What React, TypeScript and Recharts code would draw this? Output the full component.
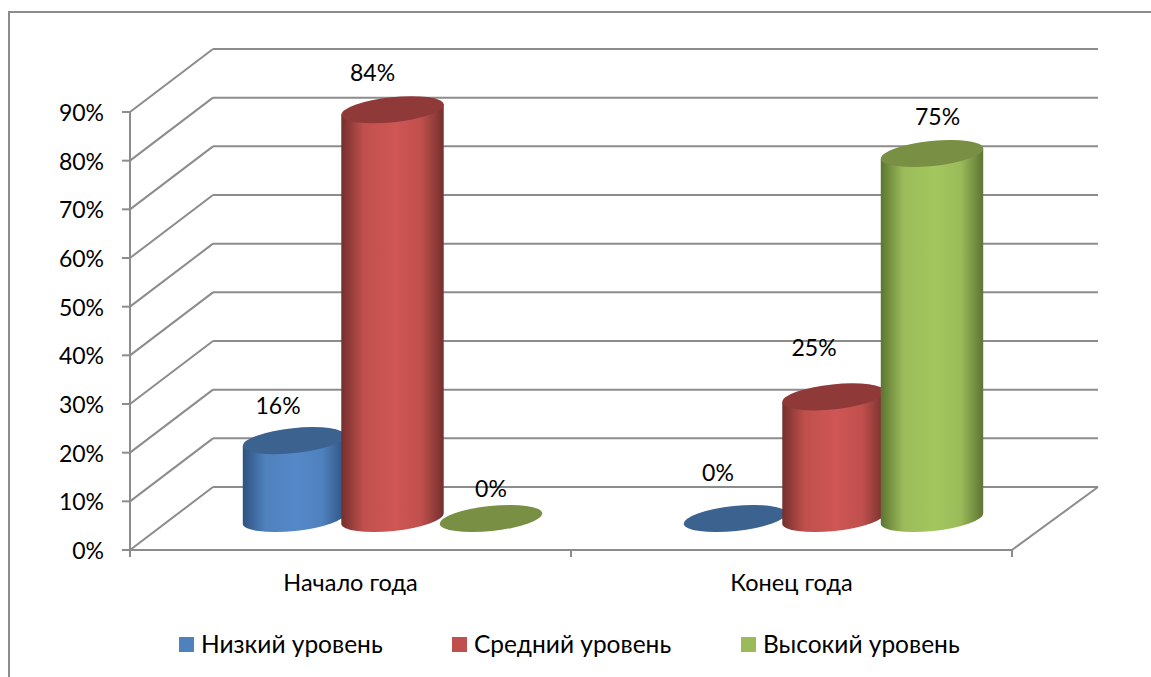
// App.tsx
import React from "react";
import { BarChart, Bar, XAxis, YAxis, CartesianGrid, Legend, LabelList } from "recharts";

const periods = ["Начало года", "Конец года"];
const lowLevel = [16, 0];
const midLevel = [84, 25];
const highLevel = [0, 75];
const yTicks = [0, 10, 20, 30, 40, 50, 60, 70, 80, 90];

const chartData = periods.map((period, i) => ({
  period,
  low: lowLevel[i],
  mid: midLevel[i],
  high: highLevel[i],
}));

const FONT = "Lato, 'Open Sans', sans-serif";
const LINE = "#8c8c8c";

// depth of the fake 3D floor, bars stand in the middle of it
const DEPTH_X = 83;
const DEPTH_Y = 63;
const BAR_DX = 41.5;
const BAR_DY = 31.5;
const TILT = 6;
const RY = 12.5;

const seriesStyle = [
  { key: "low", name: "Низкий уровень", swatch: "#4f81bd", top: "#3c628f", edge: "#2f5280", mid: "#5588c8" },
  { key: "mid", name: "Средний уровень", swatch: "#c0504d", top: "#8f3a39", edge: "#742f2d", mid: "#cf5654" },
  { key: "high", name: "Высокий уровень", swatch: "#9bbb59", top: "#799044", edge: "#5c7533", mid: "#a3c75e" },
];

// data labels were dragged by hand in the original, so each one has its own nudge
const labelNudges: Record<string, [number, number][]> = {
  low: [[-16, -35], [-17, -45.5]],
  mid: [[-20, -37], [-19.5, -49]],
  high: [[0, -30], [5.5, -37]],
};

// Back wall line plus the slanted bit going to the front axis
const WallLine = (props: any) => {
  const { x1, x2, y1 } = props;
  const isFloor = Math.abs(y1 - 550) < 1;
  return (
    <g key={props.key ?? y1}>
      <line x1={x1} y1={y1} x2={x1 + DEPTH_X} y2={y1 - DEPTH_Y} stroke={LINE} strokeWidth={2} />
      <line x1={x1 + DEPTH_X} y1={y1 - DEPTH_Y} x2={x2 + 86} y2={y1 - DEPTH_Y} stroke={LINE} strokeWidth={2} />
      {isFloor && (
        <line x1={x2} y1={y1} x2={x2 + 86} y2={y1 - DEPTH_Y} stroke={LINE} strokeWidth={2} />
      )}
    </g>
  );
};

const CategoryTick = (props: any) => {
  const { x, y, payload, index } = props;
  const half = payload.offset ?? 220.5;
  return (
    <g>
      {index === 0 && <line x1={x - half} y1={y - 8} x2={x - half} y2={y - 1} stroke={LINE} strokeWidth={2} />}
      <line x1={x + half} y1={y - 8} x2={x + half} y2={y - 1} stroke={LINE} strokeWidth={2} />
      <text x={x} y={y + 33} textAnchor="middle" fontFamily={FONT} fontSize={23.5} fill="#000">
        {payload.value}
      </text>
    </g>
  );
};

const makeCylinder = (style: (typeof seriesStyle)[number]) => (props: any) => {
  const { x, y, width, height } = props;
  const cx = x + width / 2 + BAR_DX;
  const top = y - BAR_DY;
  const bottom = y + height - BAR_DY;
  const rx = width / 2;
  const ex = rx * Math.cos((TILT * Math.PI) / 180);
  const ey = rx * Math.sin((TILT * Math.PI) / 180);
  const body = `M${cx - ex},${top + ey} L${cx - ex},${bottom + ey} A${rx},${RY} ${-TILT} 0 0 ${cx + ex},${bottom - ey} L${cx + ex},${top - ey} Z`;
  return (
    <g>
      {height > 0 && <path d={body} fill={`url(#cyl-${style.key})`} />}
      <ellipse cx={cx} cy={top} rx={rx} ry={RY} fill={style.top} transform={`rotate(${-TILT} ${cx} ${top})`} />
    </g>
  );
};

const makeLabel = (seriesKey: string) => (props: any) => {
  const { x, y, width, value, index } = props;
  const [dx, dy] = labelNudges[seriesKey][index];
  return (
    <text
      x={x + width / 2 + BAR_DX + dx}
      y={y - BAR_DY + dy + 8}
      textAnchor="middle"
      fontFamily={FONT}
      fontSize={23}
      fill="#000"
    >
      {value}%
    </text>
  );
};

const LegendRow = () => (
  <div style={{ position: "relative", height: 30, fontFamily: FONT, fontSize: 24.5, color: "#000" }}>
    {seriesStyle.map((s, i) => (
      <div key={s.key} style={{ position: "absolute", left: [179, 452, 741][i], top: 0, whiteSpace: "nowrap" }}>
        <span
          style={{ position: "absolute", left: 0, top: 8, width: 15, height: 15, background: s.swatch }}
        />
        <span style={{ position: "absolute", left: 22, top: 0, lineHeight: "30px" }}>{s.name}</span>
      </div>
    ))}
  </div>
);

export default function App() {
  return (
    <div style={{ position: "absolute", left: 0, top: 0, width: 1151, height: 677, background: "#fff", overflow: "hidden" }}>
      {/* chart frame, cut by the page edge on the right and bottom */}
      <div
        style={{
          position: "absolute",
          left: 8,
          top: 11,
          width: 1160,
          height: 700,
          border: "2px solid #8c8c8c",
          boxSizing: "border-box",
        }}
      />
      <BarChart
        width={1151}
        height={677}
        data={chartData}
        margin={{ top: 112, right: 139, bottom: 67, left: 70 }}
        barSize={103}
        barGap={-4.5}
        style={{ position: "absolute", left: 0, top: 0 }}
      >
        <defs>
          {seriesStyle.map((s) => (
            <linearGradient key={s.key} id={`cyl-${s.key}`} x1="0" y1="0" x2="1" y2="0">
              <stop offset="0%" stopColor={s.edge} />
              <stop offset="22%" stopColor={s.swatch} />
              <stop offset="52%" stopColor={s.mid} />
              <stop offset="78%" stopColor={s.swatch} />
              <stop offset="100%" stopColor={s.edge} />
            </linearGradient>
          ))}
        </defs>
        <CartesianGrid vertical={false} horizontal={WallLine} />
        <XAxis
          dataKey="period"
          height={30}
          interval={0}
          axisLine={{ stroke: LINE, strokeWidth: 2 }}
          tickLine={false}
          tick={<CategoryTick />}
        />
        <YAxis
          width={60}
          domain={[0, 90]}
          ticks={yTicks}
          interval={0}
          tickFormatter={(v: number) => `${v}%`}
          axisLine={{ stroke: LINE, strokeWidth: 2 }}
          tickLine={{ stroke: LINE, strokeWidth: 2 }}
          tickSize={8}
          tickMargin={18}
          tick={{ fontFamily: FONT, fontSize: 23, fill: "#000", dy: 1 }}
        />
        {seriesStyle.map((s) => (
          <Bar key={s.key} dataKey={s.key} name={s.name} isAnimationActive={false} shape={makeCylinder(s)}>
            <LabelList dataKey={s.key} content={makeLabel(s.key)} />
          </Bar>
        ))}
        <Legend content={<LegendRow />} wrapperStyle={{ left: 0, top: 629, width: 1151, height: 30 }} />
      </BarChart>
    </div>
  );
}
